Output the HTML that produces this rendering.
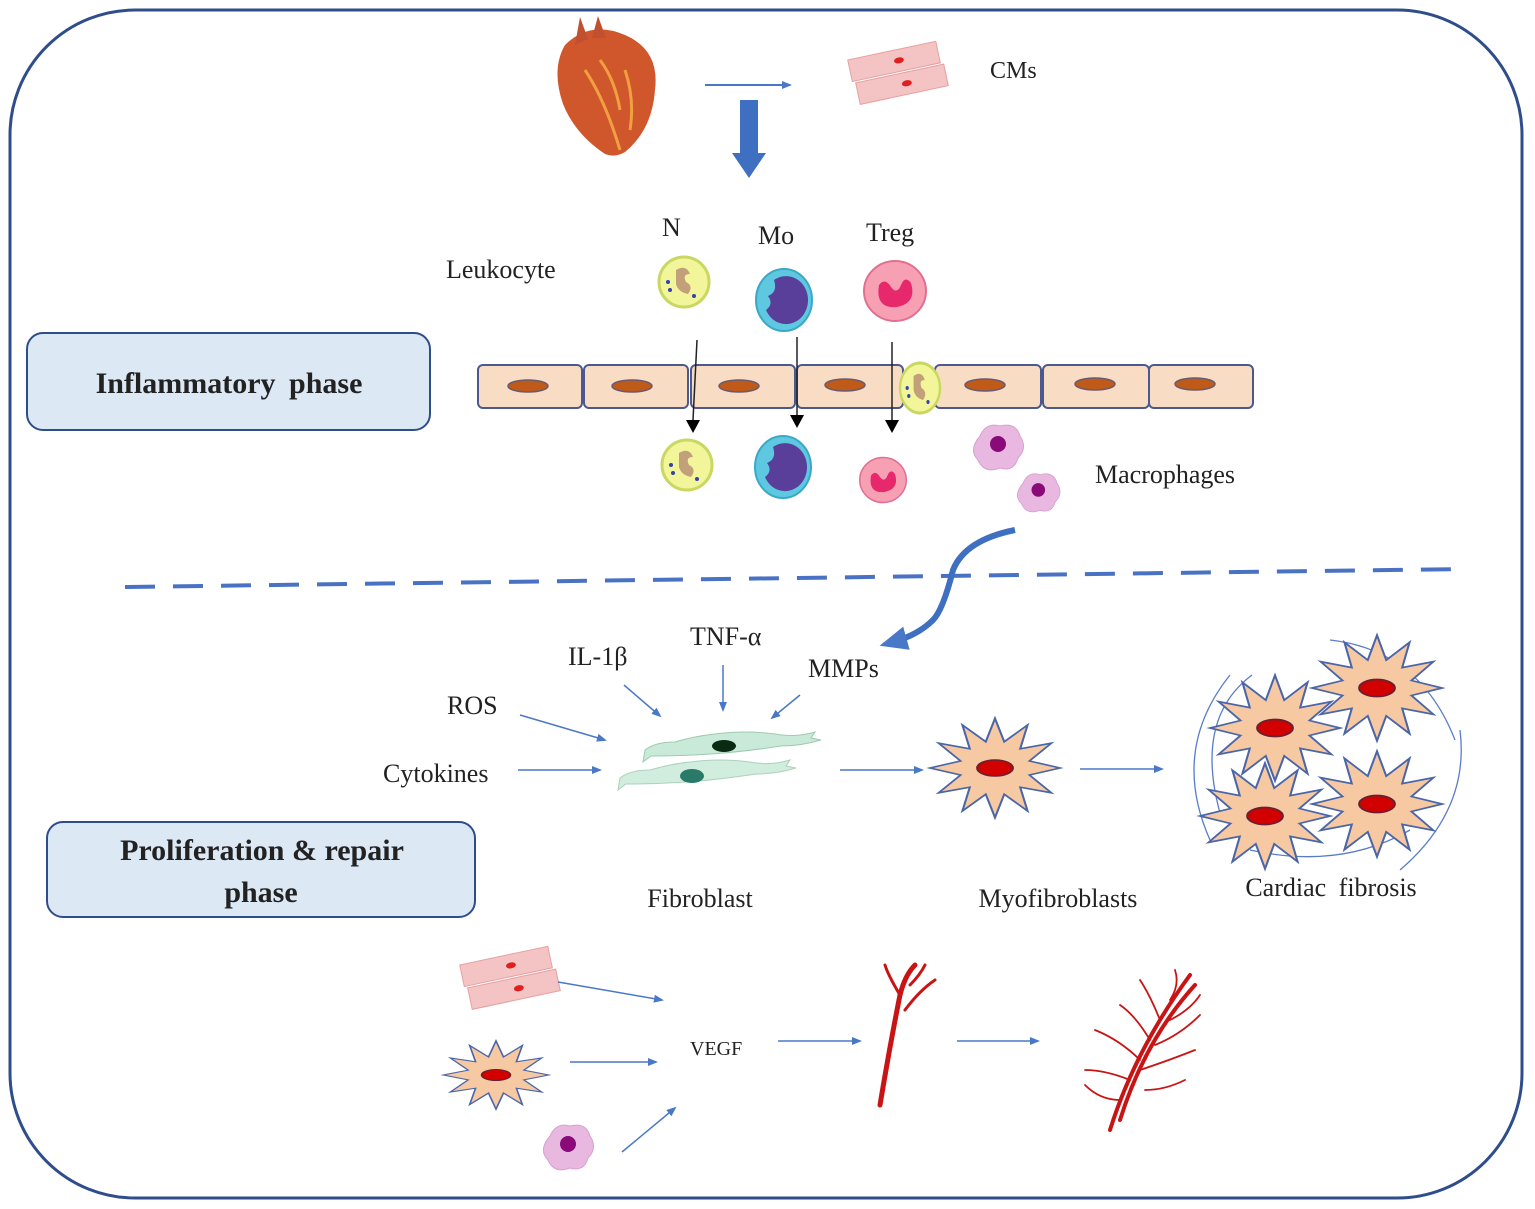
<!DOCTYPE html>
<html><head><meta charset="utf-8"><style>
html,body{margin:0;padding:0;background:#fff}
svg{display:block}
text{font-family:"Liberation Serif",serif;fill:#222}
</style></head><body>
<svg width="1535" height="1209" viewBox="0 0 1535 1209" xmlns="http://www.w3.org/2000/svg">
<defs>
<marker id="ab" markerWidth="10" markerHeight="10" refX="8" refY="5" orient="auto" markerUnits="userSpaceOnUse"><path d="M0,1 L10,5 L0,9 z" fill="#4a78c8"/></marker>
<marker id="abig" markerWidth="30" markerHeight="30" refX="14" refY="12" orient="auto" markerUnits="userSpaceOnUse"><path d="M0,0 L28,12 L0,24 z" fill="#4a78c8"/></marker>
<g id="star"><polygon points="62,0 32.8,8.8 53.7,31 24,24 31,53.7 8.8,32.8 0,62 -8.8,32.8 -31,53.7 -24,24 -53.7,31 -32.8,8.8 -62,0 -32.8,-8.8 -53.7,-31 -24,-24 -31,-53.7 -8.8,-32.8 0,-62 8.8,-32.8 31,-53.7 24,-24 53.7,-31 32.8,-8.8" fill="#f7c9a3" stroke="#4a66a8" stroke-width="2"/><ellipse cx="0" cy="0" rx="17" ry="10" fill="#d30000" stroke="#6a2030" stroke-width="2"/></g>
<g id="cm"><g transform="rotate(-12)"><rect x="-45" y="-30" width="90" height="22" fill="#f4c3c3" stroke="#e6a0a0"/><rect x="-42" y="-6" width="90" height="22" fill="#f4c3c3" stroke="#e6a0a0"/><ellipse cx="5" cy="-19" rx="5" ry="3" fill="#e02020"/><ellipse cx="8" cy="5" rx="5" ry="3" fill="#e02020"/></g></g>
<g id="neu"><circle r="25" fill="#f3f59a" stroke="#c8d860" stroke-width="3"/><path d="M-8,-12 q10,-6 14,4 q-8,0 -4,8 q8,4 2,12 q-10,-2 -12,-10 z" fill="#c2a07a"/><circle cx="-16" cy="0" r="2" fill="#3344aa"/><circle cx="-14" cy="8" r="2" fill="#3344aa"/><circle cx="10" cy="14" r="2" fill="#3344aa"/></g>
<g id="mo"><ellipse rx="28" ry="31" fill="#5ec8e0" stroke="#3aa8c8" stroke-width="2"/><path d="M-10,-20 a22,24 0 1 1 -8,30 q8,-6 2,-14 q10,-4 6,-16 z" fill="#5a3f9a"/></g>
<g id="treg"><ellipse rx="31" ry="30" fill="#f7a0b4" stroke="#e07090" stroke-width="2"/><path d="M-16,-6 q-4,24 18,22 q20,-4 14,-24 q-6,-8 -10,2 q-4,10 -10,2 q-6,-10 -12,-2 z" fill="#e8286c"/></g>
<g id="mac"><path d="M-20,-14 q6,-14 20,-10 q16,-4 20,10 q8,12 -2,22 q-4,14 -18,10 q-16,6 -22,-8 q-10,-10 2,-24 z" fill="#e9b8e0" stroke="#d8a0d0"/><circle cx="-2" cy="-6" r="8" fill="#8a0a7a"/></g>
<g id="fib"><path d="M-80,0 q10,-8 30,-8 q20,-6 40,-8 q30,-4 60,0 q20,4 40,-2 l-4,6 l10,2 q-20,6 -40,6 q-40,6 -70,8 q-30,2 -60,2 l-8,6 z" fill="#c9ead8" stroke="#9ecab2"/></g>
</defs>

<rect x="10" y="10" width="1512" height="1188" rx="125" ry="125" fill="#fff" stroke="#2e4d8a" stroke-width="3"/>

<g>
<path d="M565,45 q25,-25 60,-10 q35,15 30,55 q-3,40 -30,62 q-10,6 -20,2 q-30,-20 -42,-50 q-12,-35 2,-59 z" fill="#d0562c"/>
<path d="M575,45 l5,-28 l8,22 z M592,38 l6,-22 l8,22 z" fill="#c05030"/>
<path d="M585,70 q20,30 35,80 M600,60 q15,20 20,50 M625,70 q10,30 5,60" stroke="#f0a040" stroke-width="3" fill="none"/>
</g>
<line x1="705" y1="85" x2="790" y2="85" stroke="#4a78c8" stroke-width="2" marker-end="url(#ab)"/>
<use href="#cm" x="898" y="80"/>
<text x="990" y="78" font-size="24">CMs</text>
<rect x="740" y="100" width="18" height="55" fill="#3f6fc0"/>
<polygon points="732,153 766,153 749,178" fill="#3f6fc0"/>

<text x="662" y="236" font-size="26">N</text>
<text x="758" y="244" font-size="26">Mo</text>
<text x="866" y="241" font-size="26">Treg</text>
<text x="446" y="278" font-size="26">Leukocyte</text>
<use href="#neu" x="684" y="282"/>
<use href="#mo" x="784" y="300"/>
<use href="#treg" x="895" y="291"/>

<rect x="27" y="333" width="403" height="97" rx="16" fill="#dce9f5" stroke="#2e4d8a" stroke-width="2"/>
<text x="229" y="393" font-size="30" font-weight="bold" text-anchor="middle" word-spacing="6">Inflammatory  phase</text>

<g fill="#f9dcc4" stroke="#4a5a90" stroke-width="2">
<rect x="478" y="365" width="104" height="43" rx="5"/>
<rect x="584" y="365" width="104" height="43" rx="5"/>
<rect x="691" y="365" width="104" height="43" rx="5"/>
<rect x="797" y="365" width="106" height="43" rx="5"/>
<rect x="935" y="365" width="106" height="43" rx="5"/>
<rect x="1043" y="365" width="106" height="43" rx="5"/>
<rect x="1149" y="365" width="104" height="43" rx="5"/>
</g>
<g fill="#c05a18" stroke="#6a5a70" stroke-width="1.5">
<ellipse cx="528" cy="386" rx="20" ry="6"/><ellipse cx="632" cy="386" rx="20" ry="6"/><ellipse cx="739" cy="386" rx="20" ry="6"/><ellipse cx="845" cy="385" rx="20" ry="6"/><ellipse cx="985" cy="385" rx="20" ry="6"/><ellipse cx="1095" cy="384" rx="20" ry="6"/><ellipse cx="1195" cy="384" rx="20" ry="6"/>
</g>
<use href="#neu" transform="translate(920,388) scale(0.8,1)"/>
<g stroke="#222" stroke-width="1.5">
<line x1="697" y1="340" x2="693" y2="420"/><line x1="797" y1="337" x2="797" y2="415"/><line x1="892" y1="342" x2="892" y2="420"/>
</g>
<g fill="#000"><polygon points="686,420 700,420 693,433"/><polygon points="790,415 804,415 797,428"/><polygon points="885,420 899,420 892,433"/></g>
<use href="#neu" x="687" y="465"/>
<use href="#mo" x="783" y="467"/>
<use transform="translate(883,480) scale(0.75)" href="#treg"/>
<use href="#mac" x="1000" y="450"/>
<use transform="translate(1040,495) scale(0.85)" href="#mac"/>
<text x="1095" y="483" font-size="26">Macrophages</text>

<line x1="125" y1="587" x2="1465" y2="569" stroke="#4a72c4" stroke-width="4" stroke-dasharray="30,18"/>
<path d="M1015,530 q-50,10 -62,40 q-10,40 -20,50 q-15,15 -40,22" stroke="#3f6fc0" stroke-width="6" fill="none" marker-end="url(#abig)"/>

<text x="568" y="665" font-size="26">IL-1β</text>
<text x="690" y="645" font-size="26">TNF-α</text>
<text x="808" y="677" font-size="26">MMPs</text>
<text x="447" y="714" font-size="26">ROS</text>
<text x="383" y="782" font-size="26">Cytokines</text>
<g stroke="#4a78c8" stroke-width="1.5" marker-end="url(#ab)">
<line x1="624" y1="685" x2="660" y2="716"/>
<line x1="723" y1="665" x2="723" y2="710"/>
<line x1="800" y1="695" x2="772" y2="718"/>
<line x1="520" y1="715" x2="605" y2="740"/>
<line x1="518" y1="770" x2="600" y2="770"/>
<line x1="840" y1="770" x2="922" y2="770"/>
<line x1="1080" y1="769" x2="1162" y2="769"/>
</g>
<use href="#fib" x="725" y="750"/>
<ellipse cx="724" cy="746" rx="12" ry="6" fill="#0a2a14"/>
<use href="#fib" x="700" y="778" opacity="0.85"/>
<ellipse cx="692" cy="776" rx="12" ry="7" fill="#2a7a6a"/>

<use transform="translate(995,768) scale(1.05,0.8)" href="#star"/>

<g fill="none" stroke="#5a7cc8" stroke-width="1.3">
<path d="M1210,840 q-40,-90 20,-165"/>
<path d="M1222,820 q-30,-100 30,-145"/>
<path d="M1330,640 q90,10 125,100"/>
<path d="M1460,730 q10,80 -60,140"/>
<path d="M1250,850 q90,20 160,-20"/>
</g>
<use transform="translate(1275,728) scale(1.05,0.85)" href="#star"/>
<use transform="translate(1377,688) scale(1.05,0.85)" href="#star"/>
<use transform="translate(1265,816) scale(1.05,0.85)" href="#star"/>
<use transform="translate(1377,804) scale(1.05,0.85)" href="#star"/>

<rect x="47" y="822" width="428" height="95" rx="16" fill="#dce9f5" stroke="#2e4d8a" stroke-width="2"/>
<text x="262" y="860" font-size="30" font-weight="bold" text-anchor="middle">Proliferation  &amp; repair</text>
<text x="261" y="902" font-size="30" font-weight="bold" text-anchor="middle">phase</text>
<text x="700" y="907" font-size="26" text-anchor="middle">Fibroblast</text>
<text x="1058" y="907" font-size="26" text-anchor="middle">Myofibroblasts</text>
<text x="1331" y="896" font-size="26" text-anchor="middle" word-spacing="6">Cardiac  fibrosis</text>

<use href="#cm" x="510" y="985"/>
<use transform="translate(496,1075) scale(0.85,0.55)" href="#star"/>
<use transform="translate(570,1150)" href="#mac"/>
<g stroke="#4a78c8" stroke-width="1.5" marker-end="url(#ab)">
<line x1="558" y1="982" x2="662" y2="1000"/>
<line x1="570" y1="1062" x2="656" y2="1062"/>
<line x1="622" y1="1152" x2="675" y2="1108"/>
<line x1="778" y1="1041" x2="860" y2="1041"/>
<line x1="957" y1="1041" x2="1038" y2="1041"/>
</g>
<text x="690" y="1055" font-size="20">VEGF</text>

<g stroke="#c81414" fill="none" stroke-linecap="round">
<path d="M880,1105 q10,-60 20,-110 q5,-20 15,-30" stroke-width="5"/>
<path d="M900,995 q-12,-20 -15,-30 M905,1010 q15,-20 30,-30 M910,985 q10,-10 15,-20" stroke-width="3"/>
<path d="M1110,1130 q25,-80 80,-155 M1120,1120 q25,-80 75,-135" stroke-width="4"/>
<path d="M1130,1080 q-25,-10 -45,-10 M1140,1060 q-20,-20 -45,-30 M1150,1040 q-15,-25 -30,-35 M1160,1020 q-10,-25 -20,-40 M1170,1000 q10,-15 5,-30 M1140,1070 q30,-10 55,-20 M1155,1045 q25,-10 45,-30 M1170,1020 q20,-10 30,-25 M1145,1090 q20,0 40,-10 M1120,1100 q-20,0 -35,-15" stroke-width="1.8"/>
</g>
</svg>
</body></html>
